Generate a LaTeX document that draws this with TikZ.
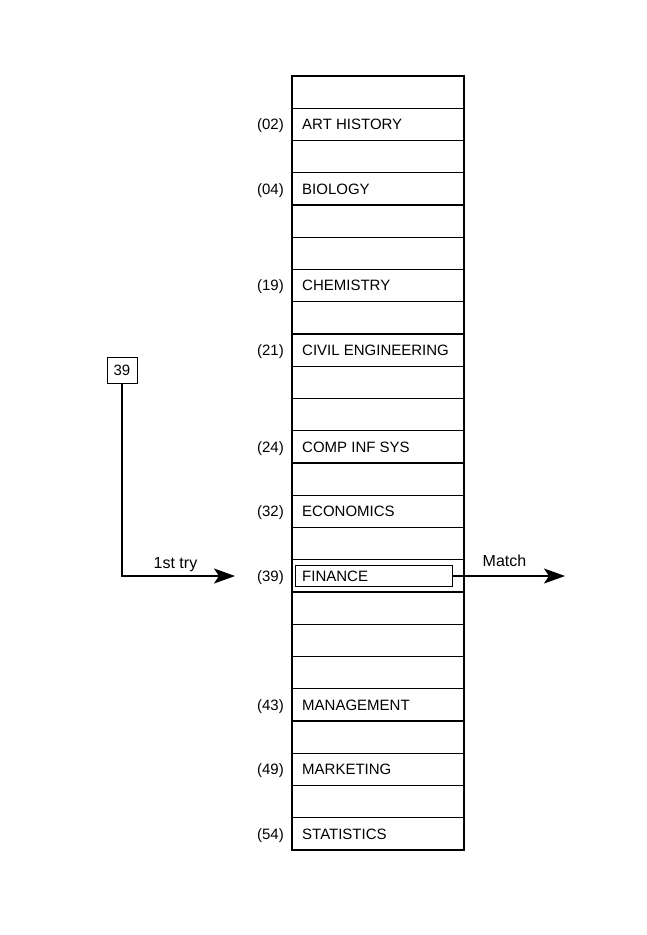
\documentclass[tikz,border=0pt]{standalone}
\usepackage{fontspec}
\setmainfont{Liberation Sans}
\usetikzlibrary{arrows.meta}
\begin{document}
\begin{tikzpicture}[x=1pt,y=-1pt,
  rowbox/.style={draw,line width=1.2pt,minimum width=172pt,minimum height=32.25pt,inner sep=0pt,outer sep=0pt},
  rowtext/.style={anchor=west,inner sep=0pt,font=\fontsize{15}{18}\selectfont,text height=10.7pt,text depth=0pt},
  codetext/.style={anchor=east,inner sep=0pt,font=\fontsize{15}{18}\selectfont,text height=10.7pt,text depth=0pt},
  finbox/.style={draw,line width=0.8pt,minimum width=157pt,minimum height=21pt,inner sep=0pt,outer sep=0pt},
  keybox/.style={draw,line width=1pt,minimum width=30pt,minimum height=26pt,inner sep=0pt,outer sep=0pt,font=\fontsize{15}{18}\selectfont},
  arrlabel/.style={anchor=base,inner sep=0pt,font=\fontsize{16}{19}\selectfont},
  arr/.style={line width=2pt,-{Stealth[length=21pt,width=15pt,inset=5pt]}}]
\useasboundingbox (0,0) rectangle (646,935);
\foreach \i in {0,...,23}
  \node[rowbox] (r\i) at (378,{76+32.25*(\i+0.5)}) {};
\foreach \i/\c/\t in {1/02/ART HISTORY,3/04/BIOLOGY,6/19/CHEMISTRY,8/21/CIVIL ENGINEERING,11/24/COMP INF SYS,13/32/ECONOMICS,15/39/FINANCE,19/43/MANAGEMENT,21/49/MARKETING,23/54/STATISTICS}{
  \node[rowtext] (t\i) at ([xshift=10pt]r\i.west) {\t};
  \node[codetext] (c\i) at ([xshift=-8pt]r\i.west) {(\c)};
}
\node[finbox] (fin) at (373.5,576) {};
\node[keybox] (key) at (122,370) {39};
\coordinate (tryend) at (235,576);
\coordinate (matchend) at (565,576);
\draw[arr] (key.south) |- (tryend);
\draw[arr] (fin.east) -- (matchend);
\node[arrlabel] (trylbl) at (175.5,568) {1st try};
\node[arrlabel] (matchlbl) at (504.5,566) {Match};
\end{tikzpicture}
\end{document}
